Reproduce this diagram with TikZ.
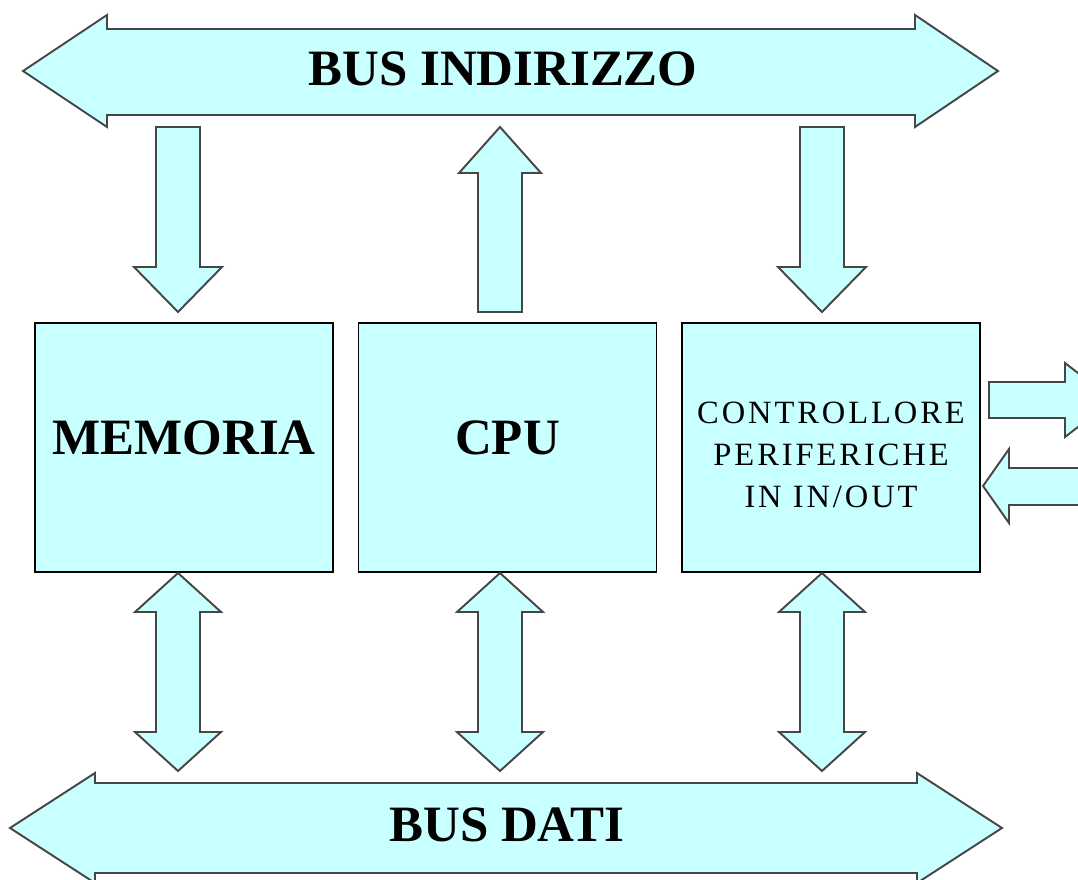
\documentclass[tikz,border=0pt]{standalone}
\usepackage{fontspec}
\setmainfont{Liberation Serif}
\newfontfamily\ctlfont[LetterSpace=9]{Liberation Serif}
\usetikzlibrary{positioning}

\definecolor{busfill}{RGB}{200,255,255}
\definecolor{busline}{RGB}{70,70,70}

\begin{document}
\begin{tikzpicture}[x=0.02cm,y=-0.02cm,
    block/.style={draw=busline,fill=busfill,line width=1.1pt,line join=miter},
    unit/.style={draw=black,fill=busfill,line width=0.9pt,inner sep=0pt,
                 minimum width=5.96cm,minimum height=4.98cm},
    big/.style={font=\fontsize{29}{34}\selectfont\bfseries}]

  \useasboundingbox (0,0) rectangle (1078,879);

  % address bus
  \draw[block] (23,71) -- (107,15) -- (107,29) -- (915,29) -- (915,15) -- (998,71)
               -- (915,127) -- (915,115) -- (107,115) -- (107,127) -- cycle;
  \node[big] (indirizzo) at (503,69) {BUS INDIRIZZO};

  % data bus
  \draw[block] (10,828) -- (95,773) -- (95,783) -- (917,783) -- (917,773) -- (1002,828)
               -- (917,883) -- (917,873) -- (95,873) -- (95,883) -- cycle;
  \node[big] (dati) at (507,825) {BUS DATI};

  \node[unit,big,text depth=0.4cm] (mem)                   at (184,447.5) {MEMORIA};
  \node[unit,big,text depth=0.4cm] (cpu) [right=0.48cm of mem] {CPU};
  \node[unit,align=center,font=\ctlfont\fontsize{18.5}{24}\selectfont,text height=2.4cm]
                                   (ctl) [right=0.48cm of cpu] {CONTROLLORE\\PERIFERICHE\\IN IN/OUT};

  \foreach \x in {178,822}
    \draw[block] (\x-22,127) -- (\x+22,127) -- (\x+22,267) -- (\x+44,267) -- (\x,312)
                 -- (\x-44,267) -- (\x-22,267) -- cycle;
  \draw[block] (478,312) -- (478,173) -- (459,173) -- (500,127) -- (541,173)
               -- (522,173) -- (522,312) -- cycle;

  \foreach \x in {178,500,822}
    \draw[block] (\x,573) -- (\x+43,612) -- (\x+22,612) -- (\x+22,732) -- (\x+43,732)
                 -- (\x,771) -- (\x-43,732) -- (\x-22,732) -- (\x-22,612) -- (\x-43,612) -- cycle;

  % peripheral lines
  \draw[block] (989,382) -- (1065,382) -- (1065,363) -- (1113,400) -- (1065,437)
               -- (1065,418) -- (989,418) -- cycle;
  \draw[block] (1100,468) -- (1009,468) -- (1009,449) -- (983,486) -- (1009,523)
               -- (1009,505) -- (1100,505) -- cycle;
\end{tikzpicture}
\end{document}
